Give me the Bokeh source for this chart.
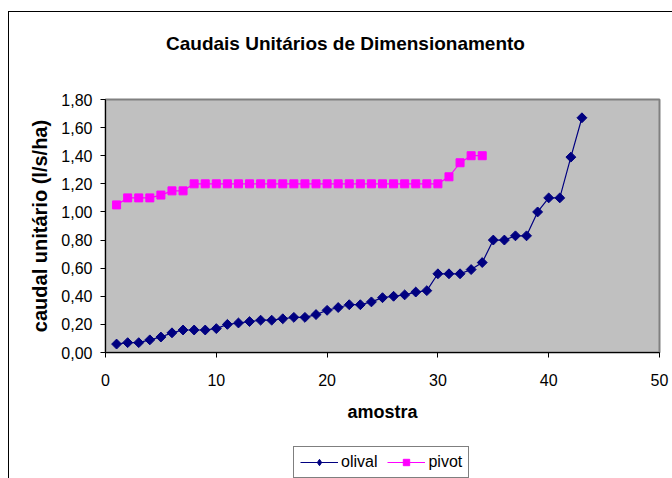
from bokeh.plotting import figure
from bokeh.layouts import column
from bokeh.models import Range1d, FixedTicker, Legend, LegendItem, Label
from bokeh.embed import file_html
from bokeh.resources import INLINE
import numpy as np

# ---- data ----
olival_x = list(range(1, 44))
olival_y = [0.06, 0.07, 0.07, 0.09, 0.11, 0.14, 0.16, 0.16, 0.16, 0.17,
            0.20, 0.21, 0.22, 0.23, 0.23, 0.24, 0.25, 0.25, 0.27, 0.30,
            0.32, 0.34, 0.34, 0.36, 0.39, 0.40, 0.41, 0.43, 0.44, 0.56,
            0.56, 0.56, 0.59, 0.64, 0.80, 0.80, 0.83, 0.83, 1.00, 1.10,
            1.10, 1.39, 1.67]
pivot_x = list(range(1, 35))
pivot_y = [1.05, 1.10, 1.10, 1.10, 1.12, 1.15, 1.15, 1.20, 1.20, 1.20,
           1.20, 1.20, 1.20, 1.20, 1.20, 1.20, 1.20, 1.20, 1.20, 1.20,
           1.20, 1.20, 1.20, 1.20, 1.20, 1.20, 1.20, 1.20, 1.20, 1.20,
           1.25, 1.35, 1.40, 1.40]
x_ticks = [0, 10, 20, 30, 40, 50]
y_ticks = [0.0, 0.2, 0.4, 0.6, 0.8, 1.0, 1.2, 1.4, 1.6, 1.8]
y_tick_labels = ["0,00", "0,20", "0,40", "0,60", "0,80", "1,00", "1,20", "1,40", "1,60", "1,80"]
title_text = "Caudais Unitários de Dimensionamento"
x_title = "amostra"
y_title = "caudal unitário (l/s/ha)"
series_names = ["olival", "pivot"]

FONT = "Liberation Sans"
NAVY = "#000080"
MAGENTA = "#FF00FF"


def strip(height):
    # a blank strip whose ranges exclude all data, used for title / legend
    f = figure(width=663, height=height, output_backend="svg", toolbar_location=None,
               x_range=Range1d(-20, -10), y_range=Range1d(-20, -10),
               min_border_top=0, min_border_bottom=0)
    f.axis.visible = False
    f.xgrid.visible = False
    f.ygrid.visible = False
    f.outline_line_color = None
    f.background_fill_color = "white"
    f.border_fill_color = "white"
    return f


# ---- title strip ----
t = strip(77)
t.add_layout(Label(x=240, y=46, x_units="screen", y_units="screen", text=title_text,
                   text_align="center", text_baseline="middle",
                   text_font=FONT, text_font_style="bold", text_font_size="19px",
                   text_color="black"))

# ---- main chart ----
p = figure(width=663, height=353, output_backend="svg", toolbar_location=None,
           x_range=Range1d(0, 50), y_range=Range1d(0, 1.8),
           min_border_left=96, min_border_right=13, min_border_top=10, min_border_bottom=90)

p.background_fill_color = "#C0C0C0"
p.border_fill_color = "white"
p.outline_line_color = "#808080"
p.outline_line_width = 2
p.xgrid.visible = False
p.ygrid.visible = False

for ax in (p.xaxis[0], p.yaxis[0]):
    ax.axis_line_color = "black"
    ax.major_tick_line_color = "black"
    ax.major_tick_out = 5
    ax.major_tick_in = 0
    ax.minor_tick_line_color = None
    ax.major_label_text_font = FONT
    ax.major_label_text_font_size = "16px"
    ax.major_label_text_color = "black"
    ax.axis_label_text_font = FONT
    ax.axis_label_text_font_style = "bold"
    ax.axis_label_text_color = "black"

p.xaxis.ticker = FixedTicker(ticks=x_ticks)
p.yaxis.ticker = FixedTicker(ticks=y_ticks)
p.yaxis.major_label_overrides = {t_: l for t_, l in zip(y_ticks, y_tick_labels)}
p.xaxis.axis_label = x_title
p.yaxis.axis_label = y_title
p.xaxis.axis_label_text_font_size = "18px"
p.yaxis.axis_label_text_font_size = "20px"
p.xaxis.major_label_standoff = 16
p.yaxis.major_label_standoff = 8
p.xaxis.axis_label_standoff = 13
p.yaxis.axis_label_standoff = 7

p.line(olival_x, olival_y, line_color=NAVY, line_width=1.2)
p.scatter(olival_x, olival_y, marker="square", angle=np.pi / 4, size=7,
          fill_color=NAVY, line_color=NAVY)
p.line(pivot_x, pivot_y, line_color=MAGENTA, line_width=1.2)
p.scatter(pivot_x, pivot_y, marker="square", size=8,
          fill_color=MAGENTA, line_color=MAGENTA)

# ---- legend strip (series drawn off-range; only their legend glyphs show) ----
q = strip(36)
ql1 = q.line(olival_x, olival_y, line_color=NAVY, line_width=1.2)
qs1 = q.scatter(olival_x, olival_y, marker="diamond", size=12,
                fill_color=NAVY, line_color=NAVY)
ql2 = q.line(pivot_x, pivot_y, line_color=MAGENTA, line_width=1.2)
qs2 = q.scatter(pivot_x, pivot_y, marker="square", size=8,
                fill_color=MAGENTA, line_color=MAGENTA)

legend = Legend(items=[LegendItem(label=series_names[0], renderers=[ql1, qs1]),
                       LegendItem(label=series_names[1], renderers=[ql2, qs2])],
                orientation="horizontal", location=(188, 0),
                label_text_font=FONT, label_text_font_size="16px",
                label_text_color="black",
                glyph_width=38, glyph_height=16, spacing=10, padding=6, margin=0,
                label_standoff=3,
                border_line_color="black", border_line_width=1,
                background_fill_color="white")
q.add_layout(legend, "center")

layout = column(t, p, q, spacing=0)
layout.styles = {"border-left": "1px solid black", "border-top": "1px solid black",
                 "margin-left": "8px", "margin-top": "11px"}

open("out.html", "w").write(file_html(layout, INLINE))
